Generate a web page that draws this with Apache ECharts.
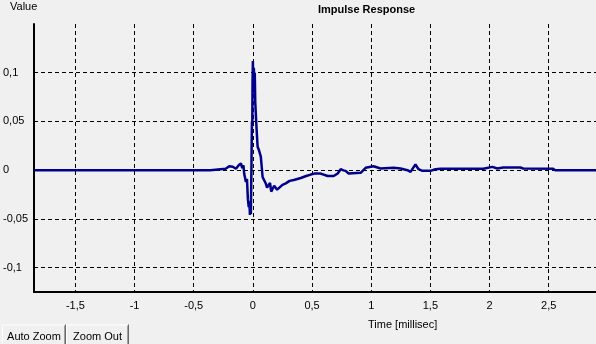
<!DOCTYPE html>
<html>
<head>
<meta charset="utf-8">
<script src="https://cdn.jsdelivr.net/npm/echarts@6/dist/echarts.min.js"></script>
<style>
    html, body { margin: 0; padding: 0; background: #f0f0f0; }
    #chart { width: 596px; height: 344px; }
</style>
</head>
<body>
<div id="chart"></div>
<script>
// time axis in milliseconds
var timeMs = [-1.85, -0.36, -0.35, -0.23, -0.2, -0.17, -0.143, -0.12, -0.101, -0.09, -0.08,
    -0.073, -0.059, -0.05, -0.042, -0.035, -0.03, -0.025, -0.02, -0.017, -0.012, -0.008,
    -0.005, -0.003, 0.0, 0.004, 0.008, 0.011, 0.016, 0.02, 0.025, 0.03, 0.04, 0.05, 0.06,
    0.067, 0.075, 0.082, 0.095, 0.11, 0.12, 0.135, 0.145, 0.155, 0.166, 0.18, 0.194, 0.205,
    0.219, 0.25, 0.278, 0.31, 0.346, 0.405, 0.45, 0.489, 0.52, 0.573, 0.632, 0.683, 0.717,
    0.742, 0.765, 0.784, 0.809, 0.911, 0.953, 1.02, 1.079, 1.189, 1.248, 1.307, 1.332,
    1.374, 1.4, 1.433, 1.5, 1.543, 1.585, 1.948, 2.024, 2.066, 2.116, 2.26, 2.285, 2.538,
    2.555, 2.9];
var response = [0, 0, 0.001, 0.0015, 0.004, 0.0035, 0.0015, 0.005, 0.007, 0.002, 0.005,
    -0.004, -0.012, -0.009, -0.03, -0.038, -0.032, -0.046, -0.035, -0.045, 0.005, 0.05,
    0.045, 0.09, 0.112, 0.08, 0.105, 0.095, 0.1, 0.07, 0.072, 0.045, 0.024, 0.021, 0.02,
    0.014, 0.003, -0.007, -0.008, -0.014, -0.018, -0.02, -0.013, -0.022, -0.021, -0.016, -0.017, -0.02,
    -0.019, -0.015, -0.0135, -0.011, -0.01, -0.008, -0.006, -0.0045, -0.0035, -0.0035, -0.006, -0.006, -0.0034,
    0.001, -0.0002, -0.0007, -0.0034, -0.0027, 0.0024, 0.004, 0.0017, 0.0024, 0.0017, 0.0, -0.0017,
    0.0058, 0.001, -0.0007, -0.0007, 0.001, 0.0014, 0.0014, 0.0034, 0.0017, 0.0027, 0.0027, 0.0017, 0.0014,
    0, 0];
var xTicks = [-1.5, -1, -0.5, 0, 0.5, 1, 1.5, 2, 2.5];
var yTicks = [-0.1, -0.05, 0, 0.05, 0.1];

var fmt = function (v) {
    return String(v).replace('.', ',');
};

var chart = echarts.init(document.getElementById('chart'));
var fontFamily = 'Liberation Sans, Arial, sans-serif';

var seriesData = [];
for (var i = 0; i < timeMs.length; i++) {
    seriesData.push([timeMs[i], response[i]]);
}

var button = function (x, w, label) {
    return {
        type: 'group',
        left: x,
        top: 322,
        children: [
            {type: 'rect', shape: {x: 0, y: 0, width: w, height: 22}, style: {fill: '#f0f0f0'}},
            {type: 'polyline', shape: {points: [[0.5, 22], [0.5, 0.5], [w - 1, 0.5]]}, style: {stroke: '#ffffff', lineWidth: 1, fill: null}},
            {type: 'polyline', shape: {points: [[w - 0.5, 0], [w - 0.5, 22]]}, style: {stroke: '#696969', lineWidth: 1, fill: null}},
            {type: 'polyline', shape: {points: [[w - 1.5, 1], [w - 1.5, 22]]}, style: {stroke: '#a0a0a0', lineWidth: 1, fill: null}},
            {type: 'text', x: w / 2, y: 12, style: {text: label, fill: '#000', font: '11px ' + fontFamily, align: 'center', verticalAlign: 'middle'}}
        ]
    };
};

var option = {
    backgroundColor: '#f0f0f0',
    animation: false,
    textStyle: {fontFamily: fontFamily},
    title: {
        text: 'Impulse Response',
        left: 318,
        top: 4,
        padding: 0,
        textStyle: {fontSize: 11, fontWeight: 'bold', color: '#000', fontFamily: fontFamily}
    },
    grid: {left: 34, right: 0, top: 24, bottom: 52, outerBoundsMode: 'none'},
    xAxis: {
        type: 'value',
        min: -1.85,
        max: 2.9,
        axisLine: {onZero: false, lineStyle: {color: '#000', width: 2}},
        axisTick: {show: false, customValues: xTicks},
        axisLabel: {customValues: xTicks, formatter: fmt, color: '#000', fontSize: 11, margin: 8},
        splitLine: {show: true, lineStyle: {color: '#000', type: [4, 3], width: 1}}
    },
    yAxis: {
        type: 'value',
        min: -0.125,
        max: 0.15,
        axisLine: {show: true, onZero: false, lineStyle: {color: '#000', width: 2}},
        axisTick: {show: false, customValues: yTicks},
        axisLabel: {customValues: yTicks, formatter: fmt, color: '#000', fontSize: 11, align: 'left', margin: 31},
        splitLine: {show: true, lineStyle: {color: '#000', type: [4, 3], width: 1}}
    },
    graphic: [
        {type: 'text', left: 10, top: 1, style: {text: 'Value', fill: '#000', font: '11px ' + fontFamily}},
        {type: 'text', left: 368, top: 319, style: {text: 'Time [millisec]', fill: '#000', font: '11px ' + fontFamily}},
        button(0, 64, 'Auto Zoom'),
        button(64, 63, 'Zoom Out')
    ],
    series: [
        {
            type: 'line',
            data: seriesData,
            showSymbol: false,
            lineStyle: {color: '#00008b', width: 2.5},
            itemStyle: {color: '#00008b'}
        }
    ]
};
chart.setOption(option);
</script>
</body>
</html>
